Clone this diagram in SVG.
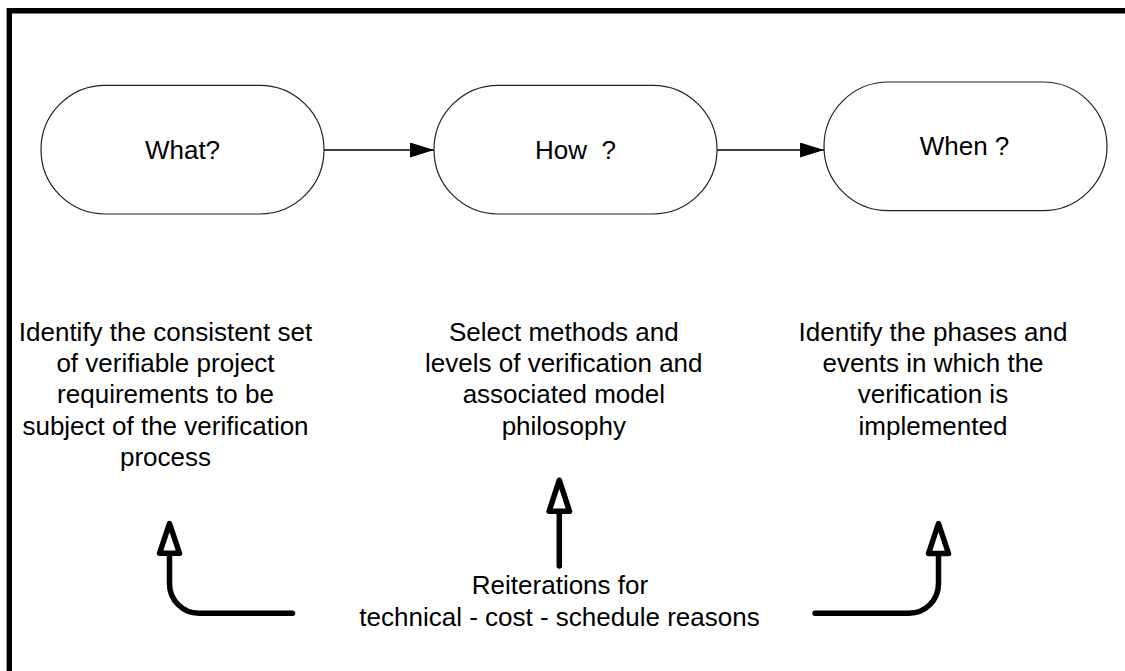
<svg xmlns="http://www.w3.org/2000/svg" width="1125" height="671" viewBox="0 0 1125 671">
  <style>
    .node { fill: #ffffff; stroke: #222222; stroke-width: 1.2; }
    .t { font-family: "Liberation Sans", Arial, sans-serif; font-size: 26px; fill: #000000; text-anchor: middle; }
    .conn { fill: none; stroke: #000000; stroke-width: 1.6; }
    .big { fill: none; stroke: #000000; stroke-width: 5.5; stroke-linecap: round; stroke-linejoin: round; }
    .head { fill: #ffffff; stroke: #000000; stroke-width: 5.5; stroke-linejoin: round; }
    .frame { fill: none; stroke: #000000; stroke-width: 5.4; }
  </style>
  <defs>
    <marker id="arr" viewBox="0 0 24 15" refX="24" refY="7.5" markerWidth="24" markerHeight="15" markerUnits="userSpaceOnUse" orient="auto">
      <path d="M0,0 L24,7.5 L0,15 Z" fill="#000000"/>
    </marker>
  </defs>
  <rect width="1125" height="671" fill="#ffffff"/>

  <g id="frame">
    <path class="frame" d="M9.3,674 V10.8 H1128"/>
  </g>

  <g id="connectors">
    <line class="conn" x1="324" y1="150" x2="434" y2="150" marker-end="url(#arr)"/>
    <line class="conn" x1="717" y1="150" x2="824" y2="150" marker-end="url(#arr)"/>
  </g>

  <g id="node-what">
    <rect class="node" x="41" y="85.3" width="283" height="128.7" rx="64.3" ry="64.3"/>
    <text class="t" x="182.5" y="159.3" font-size="27">What?</text>
  </g>
  <g id="node-how">
    <rect class="node" x="434" y="85.3" width="283" height="128.7" rx="64.3" ry="64.3"/>
    <text class="t" x="575.5" y="159.3" font-size="27" xml:space="preserve">How  ?</text>
  </g>
  <g id="node-when">
    <rect class="node" x="824" y="82" width="283" height="128.7" rx="64.3" ry="64.3"/>
    <text class="t" x="964.5" y="155" font-size="27">When ?</text>
  </g>

  <g id="desc-what">
    <text class="t" x="165.5" y="340.7">Identify the consistent set</text>
    <text class="t" x="165.5" y="372">of verifiable project</text>
    <text class="t" x="165.5" y="403.3">requirements to be</text>
    <text class="t" x="165.5" y="434.6">subject of the verification</text>
    <text class="t" x="165.5" y="465.9">process</text>
  </g>
  <g id="desc-how">
    <text class="t" x="563.8" y="340.7">Select methods and</text>
    <text class="t" x="563.8" y="372">levels of verification and</text>
    <text class="t" x="563.8" y="403.3">associated model</text>
    <text class="t" x="563.8" y="434.6">philosophy</text>
  </g>
  <g id="desc-when">
    <text class="t" x="933" y="340.7">Identify the phases and</text>
    <text class="t" x="933" y="372">events in which the</text>
    <text class="t" x="933" y="403.3">verification is</text>
    <text class="t" x="933" y="434.6">implemented</text>
  </g>

  <g id="reiterations">
    <text class="t" x="560" y="594">Reiterations for</text>
    <text class="t" x="559.5" y="625.7">technical - cost - schedule reasons</text>
  </g>

  <g id="feedback-arrows">
    <path class="big" d="M292.5,613.3 H199 A29.5,29.5 0 0 1 169.5,583.8 V553.5"/>
    <path class="head" d="M169.5,523.5 L179.5,553.3 L159.5,553.3 Z"/>
    <path class="big" d="M559.3,566 V511.5"/>
    <path class="head" d="M559.3,480.2 L569.5,511.3 L549.1,511.3 Z"/>
    <path class="big" d="M815,613.3 H909 A29.5,29.5 0 0 0 938.5,583.8 V553.5"/>
    <path class="head" d="M938.5,523.5 L948.5,553.5 L928.5,553.5 Z"/>
  </g>
</svg>
